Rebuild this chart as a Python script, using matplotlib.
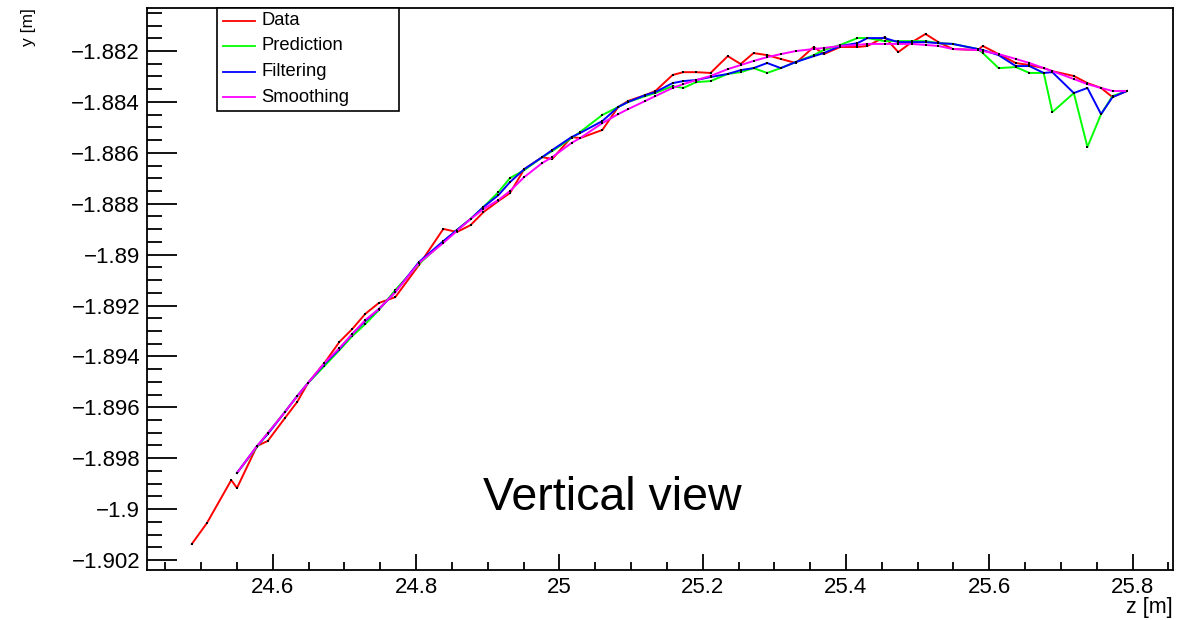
import matplotlib
matplotlib.use("Agg")
import matplotlib.pyplot as plt
from matplotlib.ticker import MultipleLocator
from matplotlib.lines import Line2D
from matplotlib.patches import Rectangle

plt.rcParams['font.family'] = ['Liberation Sans', 'DejaVu Sans']

#### Dati - track in vista verticale ####
z = [24.487, 24.508, 24.542, 24.550, 24.578, 24.593, 24.617, 24.634, 24.649, 24.672,
     24.693, 24.711, 24.729, 24.748, 24.771, 24.804, 24.838, 24.857, 24.876, 24.894,
     24.915, 24.931, 24.951, 24.976, 24.990, 25.017, 25.029, 25.060, 25.082, 25.096,
     25.120, 25.134, 25.158, 25.173, 25.191, 25.211, 25.235, 25.253, 25.271, 25.290,
     25.309, 25.330, 25.355, 25.369, 25.392, 25.416, 25.430, 25.454, 25.473, 25.492,
     25.511, 25.529, 25.549, 25.584, 25.591, 25.613, 25.637, 25.656, 25.676, 25.688,
     25.718, 25.737, 25.756, 25.772, 25.792]

y_data = [-1.90137, -1.90055, -1.89886, -1.89917, -1.89752, -1.89732, -1.89642, -1.89579, -1.89505, -1.89426,
          -1.89343, -1.89292, -1.89233, -1.89190, -1.89167, -1.89041, -1.88899, -1.88911, -1.88884, -1.88833,
          -1.88789, -1.88758, -1.88664, -1.88617, -1.88624, -1.88538, -1.88542, -1.88510, -1.88420, -1.88396,
          -1.88373, -1.88357, -1.88294, -1.88283, -1.88283, -1.88286, -1.88220, -1.88251, -1.88208, -1.88216,
          -1.88231, -1.88247, -1.88184, -1.88212, -1.88184, -1.88184, -1.88180, -1.88145, -1.88204, -1.88165,
          -1.88133, -1.88165, -1.88192, -1.88196, -1.88180, -1.88212, -1.88247, -1.88255, -1.88267, -1.88279,
          -1.88298, -1.88326, -1.88345, -1.88381, -1.88357]

# il filtro parte dal quarto hit
z_fit = z[3:]

y_pred = [-1.89858, -1.89756, -1.89701, -1.89618, -1.89556, -1.89505, -1.89438,
          -1.89375, -1.89320, -1.89273, -1.89218, -1.89139, -1.89037, -1.88950, -1.88903, -1.88860, -1.88813,
          -1.88754, -1.88699, -1.88668, -1.88617, -1.88593, -1.88542, -1.88518, -1.88451, -1.88420, -1.88400,
          -1.88377, -1.88365, -1.88338, -1.88345, -1.88322, -1.88318, -1.88290, -1.88283, -1.88267, -1.88286,
          -1.88267, -1.88243, -1.88216, -1.88196, -1.88176, -1.88149, -1.88149, -1.88161, -1.88161, -1.88161,
          -1.88161, -1.88169, -1.88172, -1.88192, -1.88208, -1.88267, -1.88263, -1.88286, -1.88286, -1.88440,
          -1.88365, -1.88577, -1.88448, -1.88377, -1.88357]

y_filt = [-1.89858, -1.89752, -1.89705, -1.89618, -1.89556, -1.89505, -1.89430,
          -1.89371, -1.89312, -1.89261, -1.89214, -1.89147, -1.89029, -1.88947, -1.88903, -1.88860, -1.88813,
          -1.88766, -1.88715, -1.88664, -1.88617, -1.88589, -1.88538, -1.88522, -1.88475, -1.88420, -1.88400,
          -1.88373, -1.88361, -1.88326, -1.88318, -1.88314, -1.88302, -1.88290, -1.88275, -1.88267, -1.88247,
          -1.88267, -1.88243, -1.88220, -1.88208, -1.88180, -1.88169, -1.88149, -1.88149, -1.88165, -1.88165,
          -1.88165, -1.88169, -1.88172, -1.88192, -1.88196, -1.88216, -1.88259, -1.88259, -1.88286, -1.88283,
          -1.88365, -1.88345, -1.88448, -1.88381, -1.88357]

y_smooth = [-1.89858, -1.89752, -1.89701, -1.89618, -1.89556, -1.89505, -1.89426,
            -1.89367, -1.89312, -1.89257, -1.89214, -1.89147, -1.89033, -1.88954, -1.88907, -1.88860, -1.88821,
            -1.88785, -1.88750, -1.88695, -1.88640, -1.88617, -1.88561, -1.88542, -1.88483, -1.88448, -1.88428,
            -1.88396, -1.88377, -1.88345, -1.88330, -1.88314, -1.88298, -1.88271, -1.88255, -1.88239, -1.88224,
            -1.88212, -1.88200, -1.88192, -1.88188, -1.88180, -1.88176, -1.88172, -1.88172, -1.88172, -1.88172,
            -1.88176, -1.88180, -1.88192, -1.88196, -1.88200, -1.88212, -1.88231, -1.88247, -1.88267, -1.88279,
            -1.88310, -1.88330, -1.88345, -1.88357, -1.88357]

labels = ["Data", "Prediction", "Filtering", "Smoothing"]
colors = ["#ff0000", "#00ff00", "#0000ff", "#ff00ff"]

x_ticks = [24.6, 24.8, 25.0, 25.2, 25.4, 25.6, 25.8]
x_tick_labels = ["24.6", "24.8", "25", "25.2", "25.4", "25.6", "25.8"]
y_ticks = [-1.902, -1.900, -1.898, -1.896, -1.894, -1.892, -1.890, -1.888, -1.886, -1.884, -1.882]
y_tick_labels = ["\u22121.902", "\u22121.9", "\u22121.898", "\u22121.896", "\u22121.894", "\u22121.892",
                 "\u22121.89", "\u22121.888", "\u22121.886", "\u22121.884", "\u22121.882"]

#### Figura ####
W, H = 1189, 620
fig = plt.figure(figsize=(W / 100, H / 100), dpi=100)

def fx(px):
    return px / W

def fy(py):
    return 1 - py / H

ax = fig.add_axes([fx(146.7), fy(570), fx(1172.7) - fx(146.7), fy(8.3) - fy(570)])

series = [(z, y_data), (z_fit, y_pred), (z_fit, y_filt), (z_fit, y_smooth)]
for (xs, ys), col in zip(series, colors):
    ax.plot(xs, ys, color=col, lw=1.4, marker='s', ms=2, mfc='k', mec='k', mew=0)

ax.set_xlim(24.424, 25.856)
ax.set_ylim(-1.902393, -1.88032)

ax.set_xticks(x_ticks)
ax.set_xticklabels(x_tick_labels)
ax.set_yticks(y_ticks)
ax.set_yticklabels(y_tick_labels)
ax.xaxis.set_minor_locator(MultipleLocator(0.05))
ax.yaxis.set_minor_locator(MultipleLocator(0.0005))

ax.tick_params(axis='x', which='major', direction='in', length=11.5, width=1.3,
               top=False, labelsize=16, pad=5)
ax.tick_params(axis='x', which='minor', direction='in', length=5.8, width=1.3, top=False)
ax.tick_params(axis='y', which='major', direction='in', length=21.6, width=1.3,
               right=False, labelsize=16, pad=4.8)
ax.tick_params(axis='y', which='minor', direction='in', length=10.8, width=1.3, right=False)
for sp in ax.spines.values():
    sp.set_linewidth(1.3)

# titoli degli assi alla ROOT
fig.text(fx(1173), fy(607), "z [m]", ha='right', va='center', fontsize=15.5)
fig.text(fx(29), fy(8), "y [m]", ha='center', va='top', rotation=90, fontsize=12.5)

fig.text(fx(612), fy(510), "Vertical view", ha='center', va='baseline', fontsize=33.5)

# legenda
fig.add_artist(Rectangle((fx(217), fy(110.7)), fx(399) - fx(217), fy(8.3) - fy(110.7),
                         transform=fig.transFigure, fill=True, facecolor='white',
                         edgecolor='black', lw=1.2, zorder=5))
leg_y = [20.7, 45.7, 71.7, 97.3]
for lab, col, py in zip(labels, colors, leg_y):
    fig.add_artist(Line2D([fx(223), fx(255)], [fy(py), fy(py)], transform=fig.transFigure,
                          color=col, lw=1.3, zorder=6))
    fig.text(fx(261.7), fy(py), lab, ha='left', va='center', fontsize=13.2, zorder=6)

fig.savefig("out.png", dpi=100)
